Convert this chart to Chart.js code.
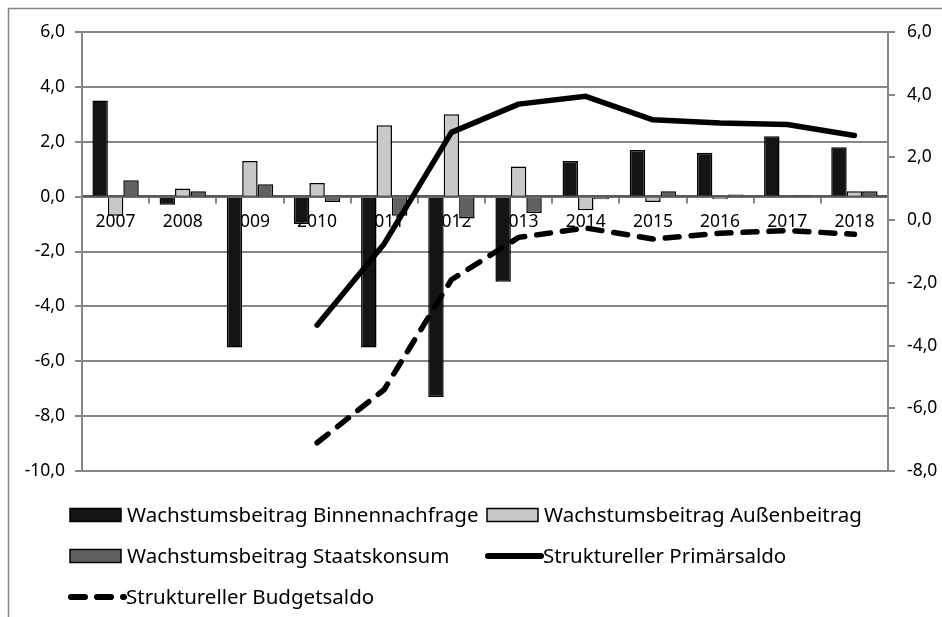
<!DOCTYPE html>
<html lang="de">
<head>
    <meta charset="UTF-8">
    <title>Wachstumsbeiträge und struktureller Saldo</title>
    <script src="https://cdn.jsdelivr.net/npm/chart.js@4.4.1/dist/chart.umd.min.js"></script>
    <style>
        body { margin: 0; background: #fff; }
    </style>
</head>
<body>
    <canvas id="saldoChart" width="942" height="617"></canvas>

    <script>
        // Werte
        const years = ['2007', '2008', '2009', '2010', '2011', '2012', '2013', '2014', '2015', '2016', '2017', '2018'];
        const binnennachfrage = [3.5, -0.3, -5.5, -1.0, -5.5, -7.3, -3.1, 1.3, 1.7, 1.6, 2.2, 1.8];
        const aussenbeitrag = [-0.7, 0.3, 1.3, 0.5, 2.6, 3.0, 1.1, -0.5, -0.2, -0.1, 0.05, 0.2];
        const staatskonsum = [0.6, 0.2, 0.45, -0.2, -0.7, -0.8, -0.6, -0.1, 0.2, 0.08, 0.05, 0.2];
        const primaersaldo = [null, null, null, -3.35, -0.75, 2.8, 3.7, 3.95, 3.2, 3.1, 3.05, 2.7];
        const budgetsaldo = [null, null, null, -7.1, -5.4, -1.9, -0.55, -0.25, -0.6, -0.42, -0.33, -0.45];
        const leftTicks = [-10, -8, -6, -4, -2, 0, 2, 4, 6];
        const rightTicks = [-8, -6, -4, -2, 0, 2, 4, 6];

        const gridGray = '#868686';
        const fontFamily = '"Noto Sans", sans-serif';
        const fmt = v => v.toFixed(1).replace('.', ',');

        // Legende selbst zeichnen (zweispaltig wie im Original)
        const legendSlots = [
            { x: 70, y: 515 }, { x: 487, y: 515 },
            { x: 70, y: 556 }, { x: 487, y: 556 },
            { x: 70, y: 597 }
        ];
        const legendPlugin = {
            id: 'customLegend',
            afterDraw(chart) {
                const ctx = chart.ctx;
                ctx.save();
                // Rahmen
                ctx.strokeStyle = gridGray;
                ctx.lineWidth = 1.5;
                ctx.beginPath();
                ctx.moveTo(chart.width + 5, 8.5);
                ctx.lineTo(8.5, 8.5);
                ctx.lineTo(8.5, chart.height + 5);
                ctx.stroke();

                ctx.font = '20.5px ' + fontFamily;
                ctx.textBaseline = 'middle';
                ctx.fillStyle = '#000';
                chart.data.datasets.forEach((ds, i) => {
                    const s = legendSlots[i];
                    if (ds.type === 'line') {
                        ctx.strokeStyle = ds.borderColor;
                        ctx.lineWidth = 6;
                        ctx.lineCap = 'round';
                        ctx.setLineDash(ds.borderDash || []);
                        ctx.beginPath();
                        ctx.moveTo(s.x + 1, s.y);
                        ctx.lineTo(s.x + 54, s.y);
                        ctx.stroke();
                        ctx.setLineDash([]);
                        ctx.fillStyle = '#000';
                        ctx.fillText(ds.label, s.x + 56, s.y + 1);
                    } else {
                        ctx.fillStyle = ds.backgroundColor;
                        ctx.fillRect(s.x, s.y - 6.5, 51, 13);
                        ctx.strokeStyle = '#000';
                        ctx.lineWidth = 1.5;
                        ctx.strokeRect(s.x, s.y - 6.5, 51, 13);
                        ctx.fillStyle = '#000';
                        ctx.fillText(ds.label, s.x + 57, s.y + 1);
                    }
                });
                ctx.restore();
            }
        };

        const ctx = document.getElementById('saldoChart').getContext('2d');
        new Chart(ctx, {
            type: 'bar',
            data: {
                labels: years,
                datasets: [{
                    label: 'Wachstumsbeitrag Binnennachfrage',
                    data: binnennachfrage,
                    backgroundColor: '#141414',
                    borderColor: '#000',
                    borderWidth: 1.5,
                    yAxisID: 'y',
                    order: 1
                }, {
                    label: 'Wachstumsbeitrag Außenbeitrag',
                    data: aussenbeitrag,
                    backgroundColor: '#c8c8c8',
                    borderColor: '#000',
                    borderWidth: 1.5,
                    yAxisID: 'y',
                    order: 1
                }, {
                    label: 'Wachstumsbeitrag Staatskonsum',
                    data: staatskonsum,
                    backgroundColor: '#616161',
                    borderColor: '#000',
                    borderWidth: 1.5,
                    yAxisID: 'y',
                    order: 1
                }, {
                    type: 'line',
                    label: 'Struktureller Primärsaldo',
                    data: primaersaldo,
                    borderColor: '#000',
                    borderWidth: 5.5,
                    borderCapStyle: 'round',
                    borderJoinStyle: 'round',
                    pointRadius: 0,
                    tension: 0,
                    fill: false,
                    yAxisID: 'y2',
                    order: 0
                }, {
                    type: 'line',
                    label: 'Struktureller Budgetsaldo',
                    data: budgetsaldo,
                    borderColor: '#000',
                    borderWidth: 5.5,
                    borderDash: [14, 12],
                    borderCapStyle: 'round',
                    borderJoinStyle: 'round',
                    pointRadius: 0,
                    tension: 0,
                    fill: false,
                    yAxisID: 'y2',
                    order: 0
                }]
            },
            options: {
                responsive: false,
                animation: false,
                layout: { padding: { top: 32, bottom: 146, left: 0, right: 0 } },
                datasets: {
                    bar: { categoryPercentage: 0.69, barPercentage: 1.0 }
                },
                plugins: {
                    legend: { display: false },
                    tooltip: { enabled: false }
                },
                scales: {
                    x: {
                        position: { y: 0 },
                        offset: true,
                        grid: {
                            offset: true,
                            drawOnChartArea: false,
                            drawTicks: true,
                            tickLength: 6,
                            color: gridGray,
                            lineWidth: 2
                        },
                        border: { color: '#5a5a5a', width: 2.5 },
                        ticks: {
                            color: '#000',
                            padding: 9,
                            maxRotation: 0,
                            font: { family: fontFamily, size: 17.5 }
                        }
                    },
                    y: {
                        position: 'left',
                        min: -10,
                        max: 6,
                        afterFit(scale) { scale.width = 82; },
                        afterBuildTicks(scale) { scale.ticks = leftTicks.map(v => ({ value: v })); },
                        grid: {
                            color: gridGray,
                            lineWidth: 2,
                            tickLength: 7
                        },
                        border: { color: gridGray, width: 2 },
                        ticks: {
                            color: '#000',
                            padding: 10,
                            callback: v => fmt(v),
                            font: { family: fontFamily, size: 17.5 }
                        }
                    },
                    y2: {
                        position: 'right',
                        min: -8,
                        max: 6,
                        afterFit(scale) { scale.width = 54; },
                        afterBuildTicks(scale) { scale.ticks = rightTicks.map(v => ({ value: v })); },
                        grid: {
                            drawOnChartArea: false,
                            color: gridGray,
                            lineWidth: 2,
                            tickLength: 7
                        },
                        border: { color: gridGray, width: 2 },
                        ticks: {
                            color: '#000',
                            padding: 12,
                            callback: v => fmt(v),
                            font: { family: fontFamily, size: 17.5 }
                        }
                    }
                }
            },
            plugins: [legendPlugin]
        });
    </script>
</body>
</html>
